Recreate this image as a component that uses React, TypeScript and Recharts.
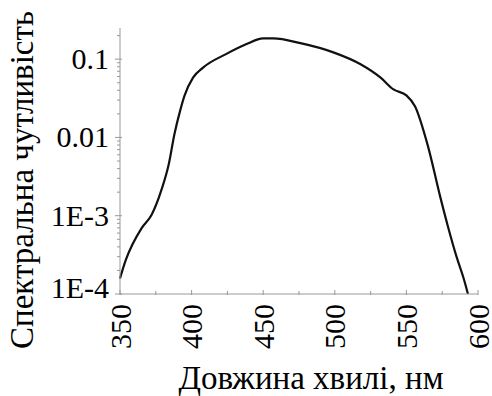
import { LineChart, Line, XAxis, YAxis, Label } from 'recharts';

const wavelengths = [350, 354, 365, 372, 379, 384, 388, 392, 395, 401, 408, 424, 438, 450, 457, 476, 499, 518, 532, 541, 550, 556, 565, 573.5, 579, 585, 590, 593];
const sensitivity = [1.58e-4, 2.7e-4, 6.9e-4, 1.02e-3, 2.15e-3, 4.5e-3, 1.1e-2, 0.022, 0.034, 0.058, 0.078, 0.116, 0.155, 0.184, 0.184, 0.16, 0.122, 0.086, 0.058, 0.041, 0.0345, 0.025, 0.0078, 0.00178, 7.3e-4, 3.0e-4, 1.58e-4, 1.0e-4];

const xTicks = [350, 375, 400, 425, 450, 475, 500, 525, 550, 575, 600];
const yMajor = [1e-4, 1e-3, 0.01, 0.1];
const yMajorLabels = ['1E-4', '1E-3', '0.01', '0.1'];
const yMinor = [2, 3, 4, 5, 6, 7, 8, 9];

const data = wavelengths.map((w, i) => ({ w, v: sensitivity[i] }));

const yTicks: number[] = [];
yMajor.forEach((d) => {
  yTicks.push(d);
  yMinor.forEach((m) => {
    const t = d * m;
    if (t <= 0.25) yTicks.push(t);
  });
});

const FONT = "'Liberation Serif', 'DejaVu Serif', serif";
const AXIS = '#999';
const tickStyle = { fontFamily: FONT, fontSize: 30, fill: '#000' };
const titleStyle = { fontFamily: FONT, fontSize: 33, fill: '#000' };

const XTick = (props: any) => {
  const { x, y, payload } = props;
  const major = payload.value % 50 === 0;
  return (
    <g>
      <line x1={x} x2={x} y1={y - (major ? 4 : 3)} y2={y + 1} stroke={AXIS} strokeWidth={1} />
      {major && (
        <text
          x={0}
          y={0}
          transform={`translate(${x},${y + 10}) rotate(-90)`}
          textAnchor="end"
          dy="0.35em"
          style={tickStyle}
        >
          {payload.value}
        </text>
      )}
    </g>
  );
};

const YTick = (props: any) => {
  const { x, y, payload } = props;
  const idx = yMajor.findIndex((d) => Math.abs(d - payload.value) / d < 1e-6);
  const major = idx >= 0;
  return (
    <g>
      <line x1={x - (major ? 5 : 3)} x2={x + (major ? 2 : 0)} y1={y} y2={y} stroke={AXIS} strokeWidth={1} />
      {major && (
        <text
          x={x - 11}
          y={y}
          dy={idx === 0 ? '0.12em' : '0.33em'}
          textAnchor="end"
          style={tickStyle}
        >
          {yMajorLabels[idx]}
        </text>
      )}
    </g>
  );
};

export default function App() {
  return (
    <div style={{ position: 'absolute', left: 0, top: 0, background: '#fff' }}>
      <LineChart width={492} height={396} data={data} margin={{ top: 28, right: 14, bottom: 0, left: 0 }}>
        <XAxis
          dataKey="w"
          type="number"
          domain={[350, 600]}
          ticks={xTicks}
          tick={<XTick />}
          tickLine={false}
          tickSize={0}
          tickMargin={0}
          height={102}
          stroke={AXIS}
          interval={0}
        >
          <Label
            content={() => (
              <text x={311} y={389} textAnchor="middle" style={titleStyle}>
                Довжина хвилі, нм
              </text>
            )}
          />
        </XAxis>
        <YAxis
          scale="log"
          type="number"
          domain={[1e-4, 0.25]}
          allowDataOverflow
          ticks={yTicks}
          tick={<YTick />}
          tickLine={false}
          tickSize={0}
          tickMargin={0}
          width={120}
          stroke={AXIS}
          interval={0}
        >
          <Label
            content={() => (
              <text
                x={0}
                y={0}
                transform="translate(22,180) rotate(-90)"
                textAnchor="middle"
                dy="0.33em"
                style={titleStyle}
              >
                Спектральна чутливість
              </text>
            )}
          />
        </YAxis>
        <Line
          type="monotone"
          dataKey="v"
          stroke="#111"
          strokeWidth={2.2}
          dot={false}
          isAnimationActive={false}
        />
      </LineChart>
    </div>
  );
}
